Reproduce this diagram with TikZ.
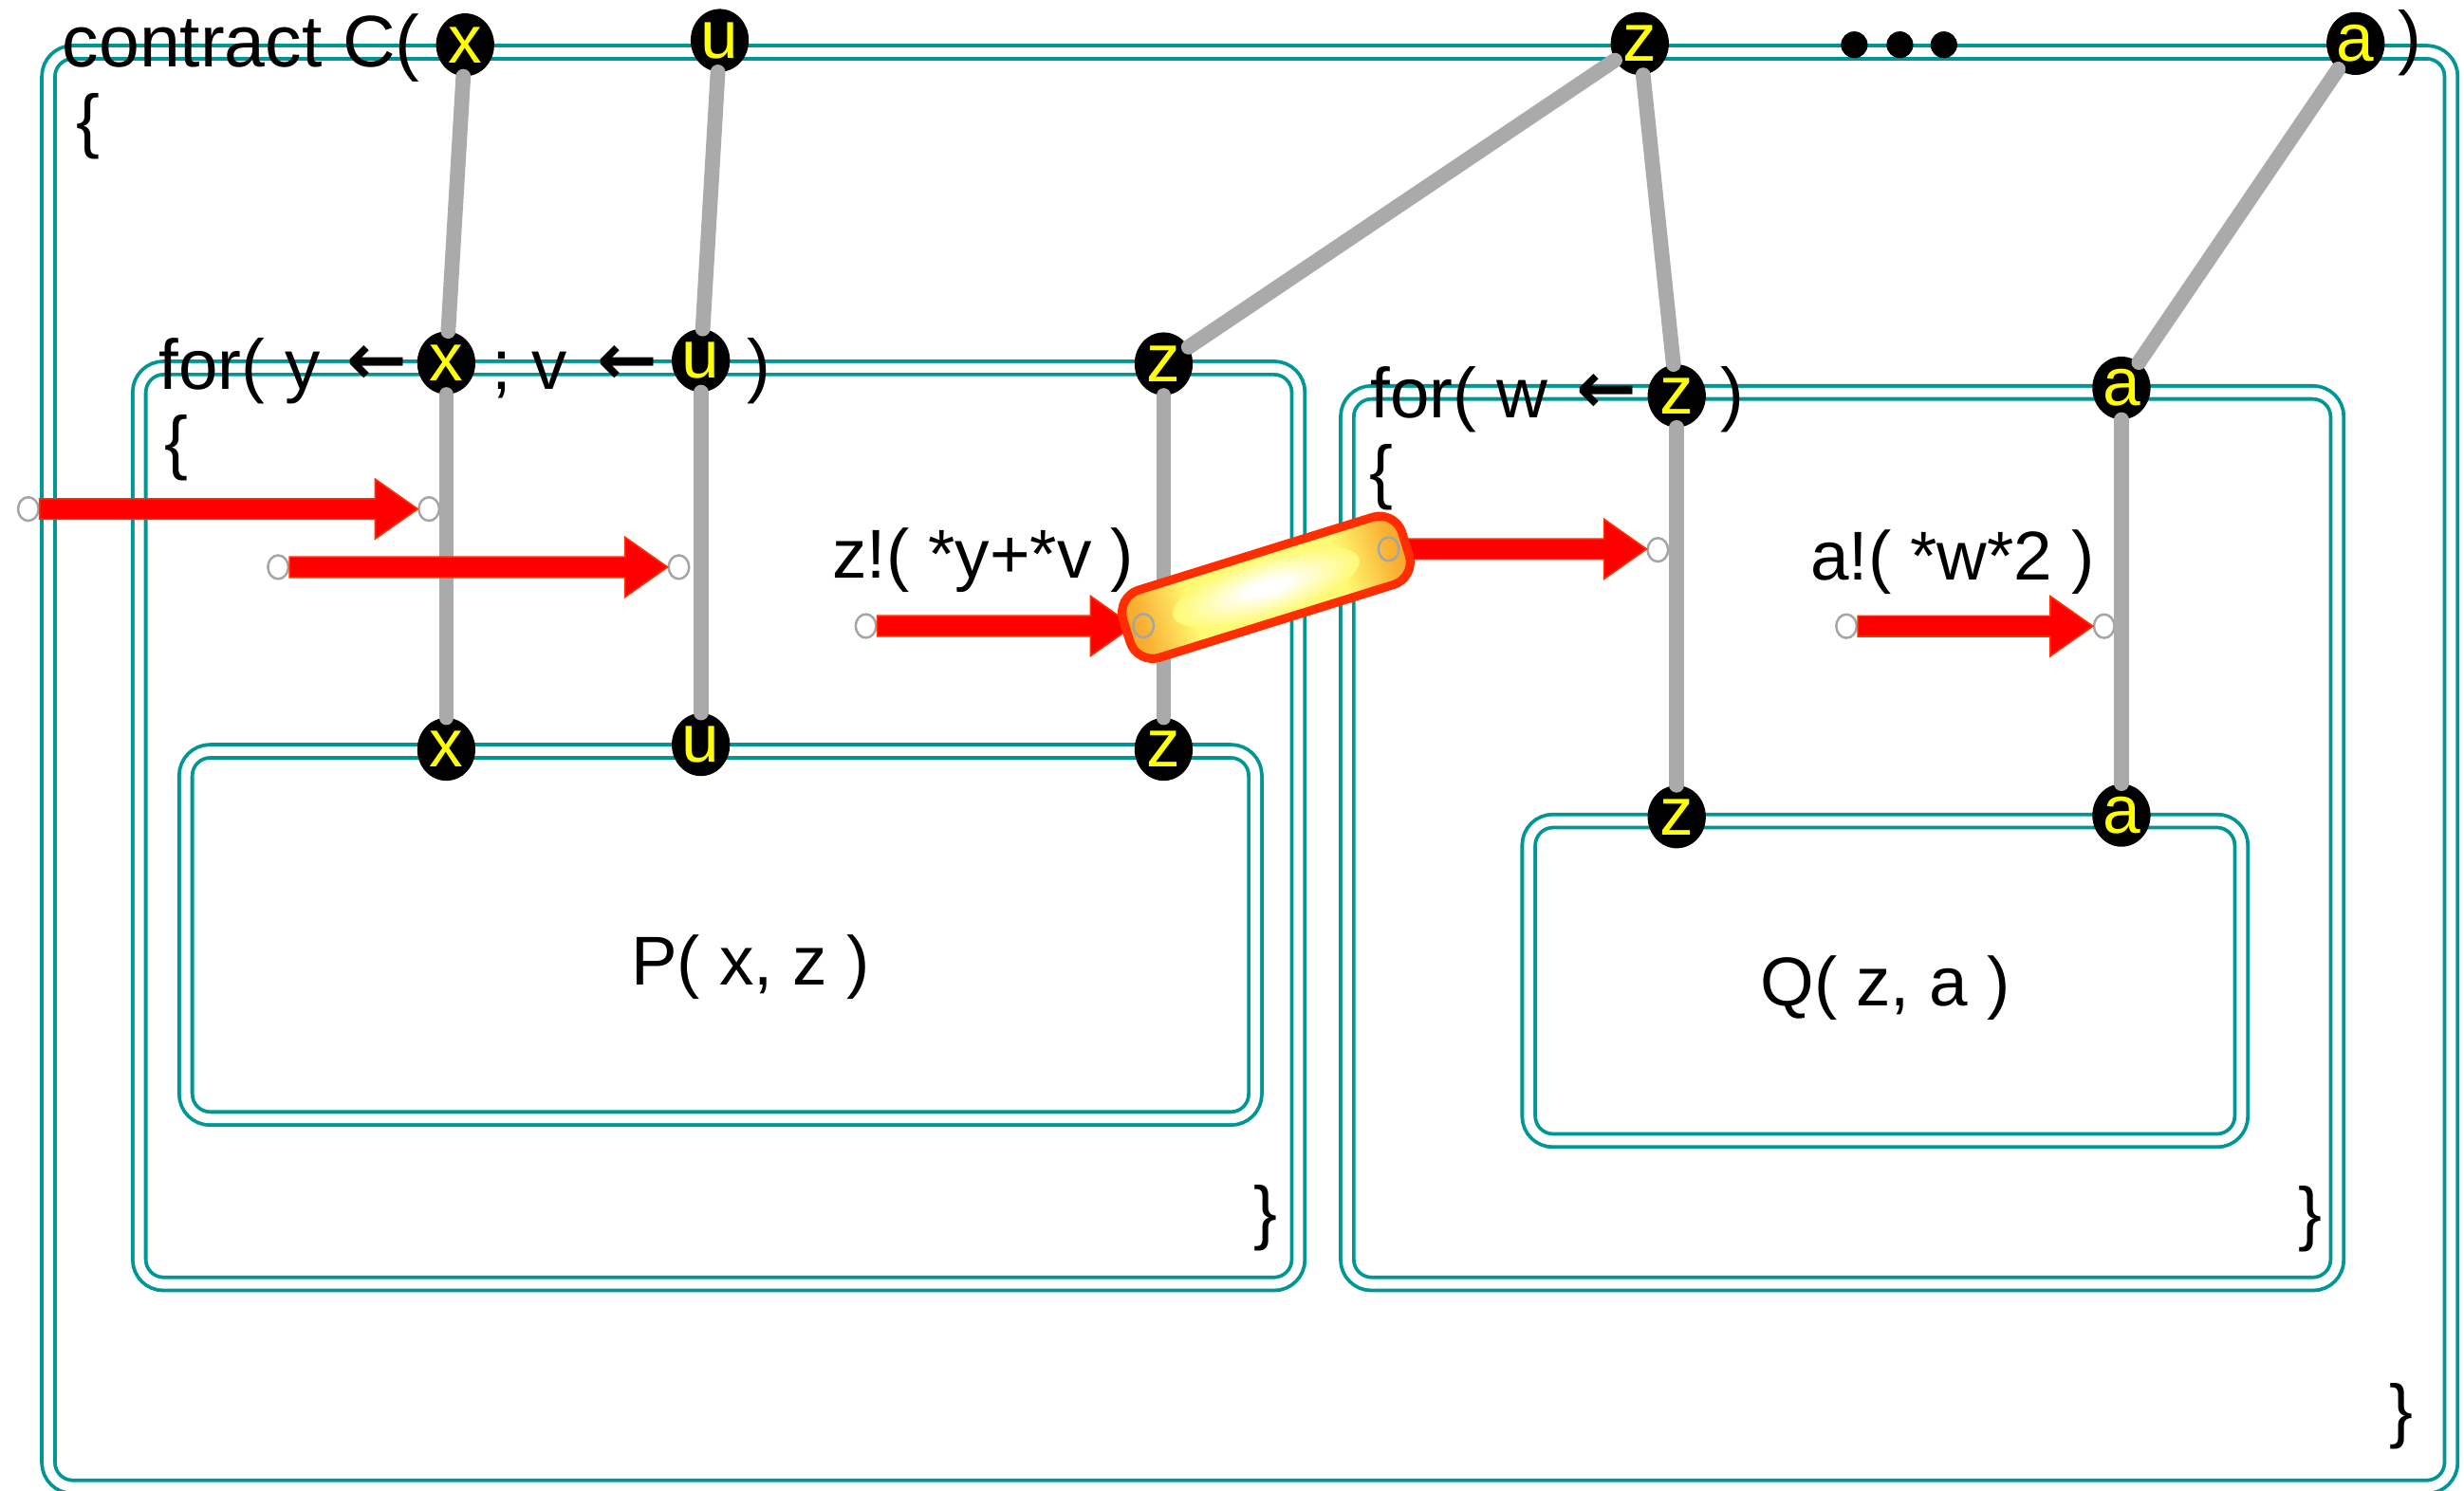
\documentclass[tikz,border=0pt]{standalone}
\usepackage{fontspec}
\setmainfont{Liberation Sans}
\newfontfamily\arrowfont{DejaVu Sans}
\usetikzlibrary{shapes.geometric,calc}
\definecolor{tealc}{RGB}{0,150,150}
\definecolor{wirec}{RGB}{170,170,170}
\definecolor{portyel}{RGB}{255,255,0}
\definecolor{arrred}{RGB}{255,0,0}
\definecolor{arredge}{RGB}{255,45,0}
\definecolor{capred}{RGB}{255,45,0}
\definecolor{capyel}{RGB}{255,250,115}
\definecolor{caporg}{RGB}{248,165,40}
\definecolor{pinring}{RGB}{165,165,165}
\pgfdeclarehorizontalshading{capbase}{100bp}{color(0bp)=(caporg); color(25bp)=(caporg); color(28bp)=(caporg!85!capyel); color(37bp)=(capyel); color(63bp)=(capyel); color(72bp)=(caporg!85!capyel); color(75bp)=(caporg); color(100bp)=(caporg)}
\pgfdeclareradialshading{capspot}{\pgfpoint{0bp}{0bp}}{color(0bp)=(white); color(5bp)=(white); color(25bp)=(capyel); color(100bp)=(capyel)}
\newcommand\redarr[2]{%
  \fill[arrred, draw=arredge, line width=1pt] let \p1=(#1), \p2=(#2) in
    (\x1,{\y1+6.5pt}) -- ({\x2-27pt},{\y1+6.5pt}) -- ({\x2-27pt},{\y1+19pt}) -- (\x2,\y1)
    -- ({\x2-27pt},{\y1-19pt}) -- ({\x2-27pt},{\y1-6.5pt}) -- (\x1,{\y1-6.5pt}) -- cycle;}
\tikzset{
  box/.style={draw=tealc, double=white, double distance=6pt, line width=2.3pt, rounded corners=15.5pt},
  lbl/.style={anchor=base west, inner sep=0pt, font=\fontsize{44pt}{50pt}\selectfont},
  lblf/.style={anchor=base west, inner sep=0pt, font=\fontsize{45pt}{50pt}\selectfont},
  arr/.style={inner sep=0pt, font=\fontsize{46pt}{50pt}\selectfont\arrowfont\bfseries},
  port/.style={ellipse, fill=black, minimum width=37pt, minimum height=40pt, inner sep=0pt,
    text=portyel, font=\fontsize{43pt}{43pt}\selectfont},
  dotn/.style={circle, fill=black, minimum size=17pt, inner sep=0pt},
  pin/.style={ellipse, draw=pinring, line width=1.5pt, minimum width=13pt, minimum height=15pt, inner sep=0pt},
  wire/.style={draw=wirec, line width=9.5pt, line cap=round},
}
\begin{document}
\begin{tikzpicture}[x=1pt,y=-1pt]
\useasboundingbox (0,0) rectangle (1568,949);
\fill[white] (0,0) rectangle (1568,949);
% boxes
\draw[box] (30.8,33.2) rectangle (1559.8,946.5);
\draw[box] (88.6,234.2) rectangle (826.2,817.3);
\draw[box] (118.2,478.2) rectangle (798.8,712);
\draw[box] (857.3,249.8) rectangle (1487.3,817.3);
\draw[box] (972.8,522.6) rectangle (1426.3,726);
% texts
\node[lbl, font=\fontsize{46.5pt}{52pt}\selectfont] (tC) at (39.5,42.3) {contract C(};
\node[lblf] (tCb) at (48.5,92.3) {\{};
\node[lblf] (tCe) at (1526,38.8) {)};
\node[lblf] (tCc) at (1520.5,913) {\}};
\node[lblf] (f1a) at (101,247.6) {for( y};
\node[arr] (f1b) at (240,232.5) {←};
\node[lblf] (f1c) at (313,247.6) {; v};
\node[arr] (f1d) at (399.5,232.5) {←};
\node[lblf] (f1e) at (475,247.6) {)};
\node[lblf] (f1o) at (104.5,296.5) {\{};
\node[lblf] (f1cl) at (797.5,786.8) {\}};
\node[lblf] (f2a) at (872,265.7) {for( w};
\node[arr] (f2b) at (1022.5,250.6) {←};
\node[lblf] (f2c) at (1095,265.7) {)};
\node[lblf] (f2o) at (871.5,315.5) {\{};
\node[lblf] (f2cl) at (1462.5,787.5) {\}};
\node[lbl] (zl) at (529.5,368) {z!( *y+*v )};
\node[lbl] (al) at (1152,369.5) {a!( *w*2 )};
\node[lbl] (Pl) at (401.5,626.8) {P( x, z )};
\node[lbl] (Ql) at (1120,640) {Q( z, a )};
% ports
\node[port] (px) at (296,28.5) {x};
\node[port] (pu) at (458,25.7) {u};
\node[port] (pz) at (1043.5,27.7) {z};
\node[port] (pa) at (1499,27.7) {a};
\node[dotn] (d1) at (1180,28.5) {};
\node[dotn] (d2) at (1209,28.5) {};
\node[dotn] (d3) at (1237,28.5) {};
\node[port] (fx) at (284,231) {x};
\node[port] (fu) at (446,229.5) {u};
\node[port] (fz) at (740.5,231.6) {z};
\node[port] (Px) at (284,477) {x};
\node[port] (Pu) at (446,474) {u};
\node[port] (Pz) at (740.5,477) {z};
\node[port] (wz) at (1067,252) {z};
\node[port] (wa) at (1350,247) {a};
\node[port] (Qz) at (1067,520) {z};
\node[port] (Qa) at (1350,519) {a};
% pins
\node[pin] (c1a) at (18,324) {};
\node[pin] (c1b) at (273,324) {};
\node[pin] (c2a) at (177,361) {};
\node[pin] (c2b) at (432,361) {};
\node[pin] (c3a) at (551,398.5) {};
\node[pin] (c4b) at (1055,350) {};
\node[pin] (c5a) at (1175,398.6) {};
\node[pin] (c5b) at (1339,398.6) {};
\coordinate (clc) at (727.7,398.3);
\coordinate (crc) at (883.7,349.5);
% wires
\draw[wire] (px) -- (fx);
\draw[wire] (pu) -- (fu);
\draw[wire] (pz) -- (fz);
\draw[wire] (pz) -- (wz);
\draw[wire] (pa) -- (wa);
\draw[wire] (fx) -- (Px);
\draw[wire] (fu) -- (Pu);
\draw[wire] (fz) -- (Pz);
\draw[wire] (wz) -- (Qz);
\draw[wire] (wa) -- (Qa);
% red arrows
\redarr{c1a.east}{c1b.west}
\redarr{c2a.east}{c2b.west}
\redarr{c3a.east}{721,398.5}
\redarr{crc}{c4b.west}
\redarr{c5a.east}{c5b.west}
% capsule
\begin{scope}[transform canvas={shift={(805.7,373.9)}, rotate=17.3}]
\path[shade, shading=capbase, rounded corners=15pt] (-93,-22.5) rectangle (93,22.5);
\path[shade, shading=capspot] (0,0) ellipse [x radius=62pt, y radius=19pt];
\draw[capred, line width=5.5pt, rounded corners=15pt] (-93,-22.5) rectangle (93,22.5);
\end{scope}
\node[pin] (cl) at (clc) {};
\node[pin] (cr) at (crc) {};
\end{tikzpicture}
\end{document}
